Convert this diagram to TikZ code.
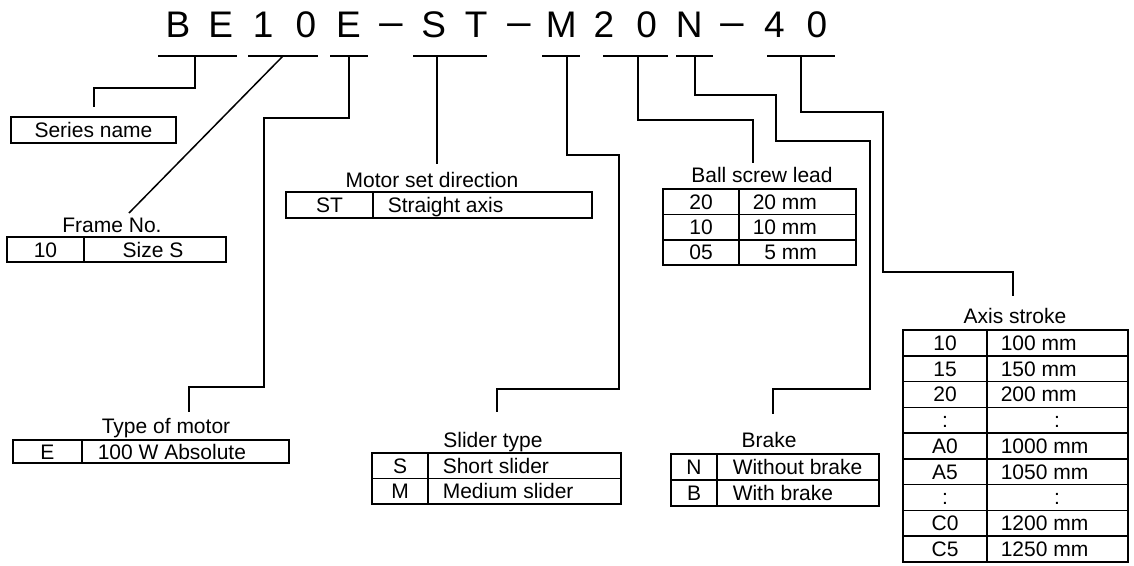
\documentclass[tikz,border=0pt]{standalone}
\usepackage{fontspec}
\setmainfont{Liberation Sans}
\begin{document}
\begin{tikzpicture}[x=1pt,y=-1pt,line width=1.5pt,
  txt/.style={font=\fontsize{21}{25}\selectfont,inner sep=0pt},
  code/.style={font=\fontsize{37}{40}\selectfont,inner sep=0pt,anchor=base},
  ttl/.style={txt,anchor=base},
  cellc/.style={txt,anchor=base},
  celll/.style={txt,anchor=base west},
  tbl/.style={draw,line width=1.6pt}]
\useasboundingbox (0,0) rectangle (1134,565);
% code
\foreach \c [count=\i from 0] in {B,E,1,0,E,\scalebox{1.3}[1]{−},S,T,\scalebox{1.3}[1]{−},M,2,0,N,\scalebox{1.3}[1]{−},4,0}
  \node[code] (c\i) at ({178+42.6*\i},37.5) {\c};
% underlines
\foreach \a/\b in {158/237,248/318,330/368,413/487,542/580,603/668,676/713,767/835}
  \draw (\a,56) -- (\b,56);
\coordinate (uBE) at (195,56);
\coordinate (u10) at (283,56);
\coordinate (uE) at (349,56);
\coordinate (uST) at (437,56);
\coordinate (uM) at (567,56);
\coordinate (u20) at (638,56);
\coordinate (uN) at (695,56);
\coordinate (u40) at (801,56);
% ---- Series name
\node[draw,line width=1.6pt,txt,minimum width=165pt,minimum height=26pt] (series) at (93.5,130) {Series name};
\coordinate (eSeries) at (94,107);
\draw (uBE) -- (195,88) -- (94,88) -- (eSeries);
% ---- Frame No.
\node[ttl] (frameT) at (112,232) {Frame No.};
\draw[tbl] (7,237) rectangle (226,262) (84,237) -- (84,262);
\node[cellc] (frame1) at (45.5,257) {10};
\node[cellc] (frame2) at (153,257) {Size S};
\coordinate (eFrame) at (129,213);
\draw (u10) -- (eFrame);
% ---- Motor set direction
\node[ttl] (motT) at (432,187) {Motor set direction};
\draw[tbl] (286,192) rectangle (592,218) (373,192) -- (373,218);
\node[cellc] (mot1) at (329.5,212.5) {ST};
\node[celll] (mot2) at (387,212.5) {Straight axis};
\coordinate (eMot) at (437,164);
\draw (uST) -- (eMot);
% ---- Ball screw lead
\node[ttl] (ballT) at (762,182) {Ball screw lead};
\draw[tbl] (663,189) rectangle (856,265) (739,189) -- (739,265)
  (663,214.3) -- (856,214.3) (663,239.7) -- (856,239.7);
\node[cellc] (ball1a) at (701,209) {20};
\node[celll] (ball1b) at (752,209) {20 mm};
\node[cellc] (ball2a) at (701,234.5) {10};
\node[celll] (ball2b) at (752,234.5) {10 mm};
\node[cellc] (ball3a) at (701,259.8) {05};
\node[celll] (ball3b) at (752,259.8) {\phantom{0}5 mm};
\coordinate (eBall) at (753,163);
\draw (u20) -- (638,120) -- (753,120) -- (eBall);
% ---- Axis stroke
\node[ttl] (axT) at (1015,323) {Axis stroke};
\draw[tbl] (903,330) rectangle (1128,562) (987,330) -- (987,562);
\foreach \k in {1,...,8} \draw[tbl] (903,{330+25.78*\k}) -- (1128,{330+25.78*\k});
\foreach \l [count=\k from 0] in {10,15,20,:,A0,A5,:,C0,C5}
  \node[cellc] (axL\k) at (945,{330+25.78*\k+20.3}) {\l};
\node[celll] (axR0) at (1000,{330+20.3}) {100 mm};
\node[celll] (axR1) at (1000,{330+25.78+20.3}) {150 mm};
\node[celll] (axR2) at (1000,{330+2*25.78+20.3}) {200 mm};
\node[cellc] (axR3) at (1057,{330+3*25.78+20.3}) {:};
\node[celll] (axR4) at (1000,{330+4*25.78+20.3}) {1000 mm};
\node[celll] (axR5) at (1000,{330+5*25.78+20.3}) {1050 mm};
\node[cellc] (axR6) at (1057,{330+6*25.78+20.3}) {:};
\node[celll] (axR7) at (1000,{330+7*25.78+20.3}) {1200 mm};
\node[celll] (axR8) at (1000,{330+8*25.78+20.3}) {1250 mm};
\coordinate (eAx) at (1013,296);
\draw (u40) -- (801,112) -- (883,112) -- (883,272) -- (1013,272) -- (eAx);
% ---- Type of motor
\node[ttl] (tomT) at (166,433) {Type of motor};
\draw[tbl] (13,440) rectangle (289,463) (82,440) -- (82,463);
\node[cellc] (tom1) at (47.5,459) {E};
\node[celll] (tom2) at (97,459) {100 W Absolute};
\coordinate (eTom) at (189,412);
\draw (uE) -- (349,118) -- (264,118) -- (264,387) -- (189,387) -- (eTom);
% ---- Slider type
\node[ttl] (slT) at (493,447) {Slider type};
\draw[tbl] (372,453) rectangle (621,504) (428,453) -- (428,504) (372,478.5) -- (621,478.5);
\node[cellc] (sl1a) at (400,473.2) {S};
\node[celll] (sl1b) at (442,473.2) {Short slider};
\node[cellc] (sl2a) at (400,498.7) {M};
\node[celll] (sl2b) at (442,498.7) {Medium slider};
\coordinate (eSl) at (497,412);
\draw (uM) -- (567,155) -- (619,155) -- (619,389) -- (497,389) -- (eSl);
% ---- Brake
\node[ttl] (brT) at (769,447) {Brake};
\draw[tbl] (671,454) rectangle (879,506) (717,454) -- (717,506) (671,480) -- (879,480);
\node[cellc] (br1a) at (694,474.5) {N};
\node[celll] (br1b) at (732,474.5) {Without brake};
\node[cellc] (br2a) at (694,500.5) {B};
\node[celll] (br2b) at (732,500.5) {With brake};
\coordinate (eBr) at (773,414);
\draw (uN) -- (695,95) -- (776,95) -- (776,141) -- (870,141) -- (870,389) -- (773,389) -- (eBr);
\end{tikzpicture}
\end{document}
